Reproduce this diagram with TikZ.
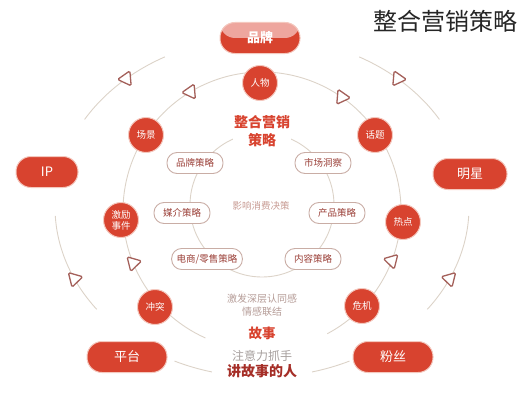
\documentclass[tikz,border=0pt]{standalone}
\usepackage{fontspec}
\setmainfont{Noto Sans CJK SC}
\usetikzlibrary{positioning,shapes.geometric,calc}
\definecolor{mkred}{HTML}{D8432F}
\definecolor{mkhalo}{HTML}{F4C8BE}
\definecolor{pillhi}{HTML}{EEA69E}
\definecolor{tagline}{HTML}{C9ADA5}
\definecolor{tagtext}{HTML}{9B4038}
\definecolor{tricol}{HTML}{A4605A}
\definecolor{ringcol}{HTML}{DCD3C8}
\definecolor{deepred}{HTML}{A52E27}
\definecolor{softtext}{HTML}{B59C97}
\definecolor{greytext}{HTML}{A59E9C}
\definecolor{midtext}{HTML}{C79A92}

\begin{document}
\begin{tikzpicture}[x=1pt, y=1pt,
  hub/.style={circle, fill=mkred, draw=mkhalo, line width=1pt, minimum size=35pt, inner sep=0pt,
    text=white, align=center, font=\fontsize{9.5}{11}\selectfont},
  pill/.style={rectangle, rounded corners=15pt, fill=mkred, draw=mkhalo, line width=1pt,
    minimum width=80pt, minimum height=31pt, text=white, font=\fontsize{13}{15}\selectfont},
  tag/.style={rectangle, rounded corners=10pt, fill=white, draw=tagline, line width=0.9pt,
    minimum width=56pt, minimum height=21pt, inner xsep=5pt, text=tagtext, font=\fontsize{9.5}{11}\selectfont},
  tri/.style={isosceles triangle, isosceles triangle apex angle=60, draw=tricol, fill=white,
    line width=1.3pt, rounded corners=1.5pt, minimum size=13pt, inner sep=0pt},
  ring/.style={draw=ringcol, line width=0.9pt}]
  \useasboundingbox (0,0) rectangle (524,400);
  \coordinate (oc) at (262,193);
  \coordinate (mc) at (262,189);
  \coordinate (ic) at (262,195);

  \draw[ring] (oc) ++(118:207 and 170) arc[start angle=118, end angle=149, x radius=207, y radius=170];
  \draw[ring] (oc) ++(183:207 and 170) arc[start angle=183, end angle=217, x radius=207, y radius=170];
  \draw[ring] (oc) ++(245:207 and 170) arc[start angle=245, end angle=256, x radius=207, y radius=170];
  \draw[ring] (oc) ++(62:207 and 170) arc[start angle=62, end angle=31, x radius=207, y radius=170];
  \draw[ring] (oc) ++(-3:207 and 170) arc[start angle=-3, end angle=-37, x radius=207, y radius=170];
  \draw[ring] (oc) ++(-65:207 and 170) arc[start angle=-65, end angle=-76, x radius=207, y radius=170];
  \draw[ring] (mc) ++(-62:139) arc[start angle=-62, end angle=246, radius=139];
  \draw[ring] (ic) circle[radius=72];

  \path (oc) ++(131:207 and 170) node[tri, rotate=185] (oa1) {};
  \path (oc) ++(49:207 and 170) node[tri, rotate=-5] (oa2) {};
  \path (oc) ++(205:207 and 170) node[tri, rotate=254] (oa3) {};
  \path (oc) ++(-25:207 and 170) node[tri, rotate=286] (oa4) {};
  \path (mc) ++(121:139) node[tri, rotate=185] (ma1) {};
  \path (mc) ++(55:139) node[tri, rotate=-5] (ma2) {};
  \path (mc) ++(202:139) node[tri, rotate=254] (ma3) {};
  \path (mc) ++(-21:139) node[tri, rotate=286] (ma4) {};

  \node[pill, path picture={\fill[pillhi] (path picture bounding box.north west) rectangle (path picture bounding box.east);}]
    (brand) at (260,362) {\bfseries 品牌};
  \node[pill, minimum width=62pt] (ip) at (47,228) {IP};
  \node[pill, minimum width=74pt] (star) at (470,226) {明星};
  \node[pill] (platform) at (127,43) {平台};
  \node[pill] (fans) at (393,43) {粉丝};

  \node[hub] (person) at (260,317) {人物};
  \node[hub] (scene) at (146,265) {场景};
  \node[hub] (topic) at (375,265) {话题};
  \node[hub] (incite) at (121,180) {激励\\事件};
  \node[hub] (hot) at (403,178) {热点};
  \node[hub] (conflict) at (155,93) {冲突};
  \node[hub] (crisis) at (362,94) {危机};

  \node[tag] (brandplan) at (195,237) {品牌策略};
  \node[tag] (insight) at (323,237) {市场洞察};
  \node[tag] (media) at (182,187) {媒介策略};
  \node[tag] (product) at (337,187) {产品策略};
  \node[tag] (retail) at (207,141) {电商/零售策略};
  \node[tag] (content) at (313,141) {内容策略};

  \node[fill=white, inner sep=1pt, align=center, text=mkred, font=\bfseries\fontsize{14}{18}\selectfont] (core) at (262,269) {整合营销\\策略};
  \node[text=midtext, font=\fontsize{9.5}{11}\selectfont] (focus) at (261,194) {影响消费决策};
  \node[text=softtext, align=center, font=\fontsize{10}{13}\selectfont] (bond) at (262,95) {激发深层认同感\\情感联结};
  \node[text=mkred, font=\bfseries\fontsize{13.5}{15}\selectfont] (story) at (262,67) {故事};
  \node[text=greytext, font=\fontsize{12}{14}\selectfont] (hook) at (262,44) {注意力抓手};
  \node[text=deepred, font=\bfseries\fontsize{14}{16}\selectfont] (teller) at (262,29) {讲故事的人};
  \node[text=black!85, font=\fontsize{24}{28}\selectfont] (title) at (445,379) {整合营销策略};
\end{tikzpicture}
\end{document}
